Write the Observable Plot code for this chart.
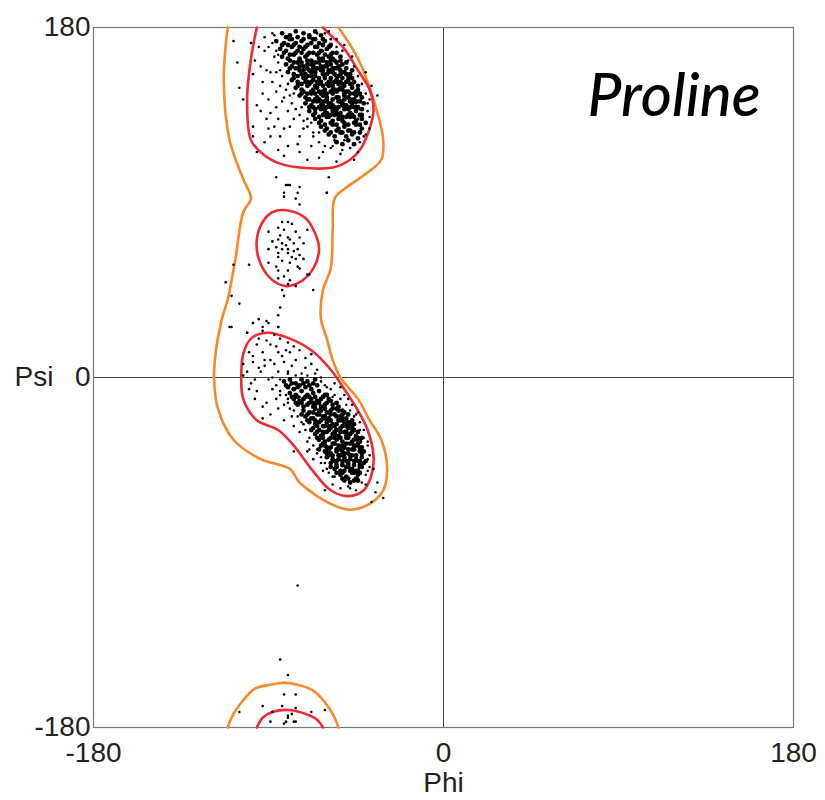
<!DOCTYPE html>
<html><head><meta charset="utf-8">
<script src="https://cdn.jsdelivr.net/npm/d3@7"></script>
<script src="https://cdn.jsdelivr.net/npm/@observablehq/plot@0.6"></script>
<style>body{margin:0;background:#fff}</style>
</head><body><div id="chart"></div>
<script>
const title = "Proline";
const xTicks = [-180, 0, 180];
const yTicks = [-180, 0, 180];

// Contours [phi, psi]
const orangeMain = [[-111,180],[-113,153],[-110,122],[-103,102],[-99,92],[-103,85],[-107,61],[-111,40],[-114,30],[-117,14],[-118,0],[-116,-16],[-108,-32],[-94,-42],[-79,-47],[-74,-54],[-58,-65],[-48,-68],[-38,-65],[-31,-58],[-29,-47],[-32,-32],[-38,-22],[-44,-11],[-53,0],[-57,9],[-60,20],[-63,30],[-62,45],[-58,56],[-57,76],[-56,92],[-51,97],[-41,104],[-32,112],[-31,122],[-36,143],[-44,164],[-54,180]];
const orangeBottom = [[-111,-180],[-108,-173],[-103,-166],[-97,-160],[-89,-158],[-82,-157],[-75,-158],[-67,-161],[-61,-167],[-57,-173],[-54,-180]];
const redTop = [[-96,180],[-99,164],[-101,143],[-99,122],[-93,115],[-84,110],[-74,108],[-57,108],[-48,112],[-43,117],[-38,128],[-36,138],[-38,148],[-44,158],[-51,169],[-58,176],[-62,180]];
const redBottom = [[-96,-180],[-93,-175],[-88,-172],[-79,-171],[-71,-173],[-65,-176],[-62,-180]];
const redMiddle = [[-81,86],[-71,82],[-66,74],[-64,66],[-67,56],[-74,49],[-81,47],[-89,51],[-95,61],[-96,71],[-93,80],[-88,85]];
const redAlpha = [[-91,23],[-79,20],[-68,14],[-58,4],[-51,-6],[-44,-17],[-39,-27],[-36,-40],[-37,-50],[-41,-58],[-49,-61],[-58,-58],[-68,-47],[-77,-35],[-85,-27],[-96,-22],[-103,-11],[-104,0],[-103,12],[-99,20]];

// Scatter points [phi, psi]
const betaCore = [[-83,177],[-79,176],[-76,178],[-72,177],[-69,175],[-66,178],[-63,176],
[-86,173],[-82,172],[-79,174],[-76,172],[-73,173],[-70,171],[-67,174],[-64,172],[-61,173],[-58,171],
[-84,169],[-81,168],[-78,170],[-75,168],[-72,169],[-69,167],[-66,170],[-63,168],[-60,169],[-57,167],
[-83,165],[-80,164],[-77,166],[-74,164],[-71,165],[-68,163],[-65,166],[-62,164],[-59,165],[-56,163],[-53,165],
[-81,161],[-78,160],[-75,162],[-72,160],[-70,161],[-67,159],[-64,162],[-61,160],[-58,161],[-55,159],[-52,161],
[-80,157],[-77,156],[-74,158],[-71,156],[-68,157],[-66,155],[-63,158],[-60,156],[-57,157],[-54,155],[-51,157],[-48,156],
[-78,153],[-75,152],[-72,154],[-70,152],[-67,153],[-64,151],[-61,154],[-58,152],[-55,153],[-52,151],[-49,153],[-46,152],
[-76,149],[-73,148],[-70,150],[-67,148],[-65,149],[-62,147],[-59,150],[-56,148],[-53,149],[-50,147],[-47,149],[-44,148],
[-74,145],[-71,144],[-68,146],[-65,144],[-62,145],[-60,143],[-57,146],[-54,144],[-51,145],[-48,143],[-45,145],[-42,144],
[-71,141],[-68,140],[-65,142],[-62,140],[-59,141],[-56,139],[-53,142],[-50,140],[-47,141],[-44,139],[-41,141],
[-69,137],[-66,136],[-63,138],[-60,136],[-57,137],[-54,135],[-51,138],[-48,136],[-45,137],[-42,135],
[-66,133],[-63,132],[-60,134],[-57,132],[-54,133],[-51,131],[-48,134],[-45,132],[-42,133],[-40,131],
[-63,129],[-60,128],[-57,130],[-54,128],[-51,129],[-48,127],[-45,130],[-42,128],
[-59,125],[-56,124],[-53,126],[-50,124],[-47,125],[-44,123],
[-55,121],[-52,120],[-49,122],[-46,120],
[-74,163],[-70,163],[-66,162],[-62,163],[-58,163],[-55,162],
[-76,159],[-72,158],[-69,158],[-65,159],[-62,158],[-59,158],[-56,159],[-53,158],
[-75,155],[-71,154],[-68,155],[-64,154],[-61,155],[-58,154],[-55,155],[-52,154],[-49,155],
[-73,151],[-69,151],[-66,150],[-63,152],[-60,151],[-57,150],[-54,151],[-51,150],[-48,151],
[-72,147],[-68,147],[-64,147],[-61,148],[-58,147],[-55,147],[-52,148],[-49,147],[-46,146],
[-69,143],[-66,143],[-63,142],[-60,144],[-57,143],[-54,142],[-51,143],[-48,142],[-45,142],
[-67,139],[-64,139],[-61,138],[-58,139],[-55,138],[-52,140],[-49,138],[-46,139],
[-62,135],[-59,134],[-56,135],[-53,136],[-50,134],[-47,135],
[-81,175],[-78,174],[-75,175],[-72,174],[-69,176],[-66,174],[-62,174],
[-83,171],[-80,171],[-77,171],[-74,170],[-71,170],[-68,172],[-65,170],[-62,171],[-59,170],
[-82,167],[-79,166],[-76,167],[-73,167],[-70,166],[-67,167],[-64,167],[-61,166],[-58,166],[-55,167],
[-79,163],[-77,162],[-73,162],[-68,161],[-64,164],[-60,162],[-57,164],[-53,163],[-50,162],
[-79,159],[-74,160],[-70,159],[-67,160],[-63,160],[-60,160],[-57,159],[-54,160],[-50,159],[-47,158],
[-77,154],[-73,156],[-70,155],[-66,157],[-62,156],[-59,157],[-56,156],[-53,156],[-50,156],[-47,154],
[-75,150],[-71,152],[-68,152],[-65,152],[-62,150],[-59,152],[-56,152],[-53,152],[-50,152],[-47,151],[-44,150],
[-73,146],[-70,146],[-66,146],[-63,146],[-60,146],[-57,148],[-54,148],[-51,146],[-48,146],[-45,147],[-43,146],
[-70,143],[-67,142],[-64,143],[-61,142],[-58,141],[-55,144],[-52,141],[-49,144],[-46,143],[-43,142],
[-69,139],[-66,138],[-63,140],[-60,139],[-57,140],[-54,139],[-51,140],[-48,139],[-45,139],[-42,138],
[-67,135],[-64,134],[-61,136],[-58,135],[-55,136],[-52,134],[-49,135],[-46,134],[-43,135],
[-64,131],[-61,130],[-58,131],[-55,130],[-52,132],[-49,130],[-46,131],[-43,130],
[-61,127],[-58,126],[-55,127],[-52,126],[-49,127],[-46,126],[-43,126]];
const betaHalo = [[-108,173],[-106,162],[-105,149],[-103,143],[-98,129],[-98,124],[-96,116],[-86,103],[-80,99],[-82,95],[-60,95],[-59,103],[-34,145],[-44,116],[-99,172],[-98,156],[-94,160],[-92,168],[-89,136],[-87,129],[-90,143],[-85,117],[-82,114],[-74,116],[-68,119],[-57,119],[-51,122],[-46,126],[-44,133],[-43,138],[-45,141],[-80,119],[-84,124],[-85,133],[-79,129],[-74,124],[-67,126],[-46,112],[-55,111],[-65,177],[-58,170],[-53,160],[-49,153],[-43,145],[-39,141],[-58,164],[-62,168],[-92,175],[-88,177],[-90,170],[-87,165],[-91,158],[-88,152],[-93,146],[-86,147],[-94,137],[-90,128],[-92,121],
[-95,170],[-97,163],[-93,152],[-96,140],[-91,133],[-89,124],[-86,139],[-83,142],[-80,137],[-77,133],[-72,128],[-70,133],[-84,158],[-86,168],[-89,157],[-82,128],[-75,120],[-62,116],[-53,115],[-40,125],[-38,134],[-37,150],[-40,157],[-47,165],[-51,171],[-55,174],[-59,178],[-70,112],[-64,113],
[-88,172],[-85,162],[-86,157],[-83,155],[-84,150],[-81,148],[-82,144],[-79,145],[-78,141],[-76,138],[-74,135],[-72,132],[-70,129],[-67,124],[-64,121],[-61,119],[-58,118],[-52,117],[-48,118],[-43,121],[-41,124],[-38,128],[-39,137],[-40,146],[-42,151],[-44,155],[-46,160],[-49,163],[-52,168],[-55,170],[-58,174],[-61,177],[-87,176],[-85,166],[-80,151],[-77,146],[-73,139],[-68,131],[-64,126],[-56,122],[-38,143],
[-81,99],[-79,99],[-74,98],[-82,93],[-76,92],[-74,89],[-60,95],[-75,95]];
const middlePts = [[-83,80],[-80,80],[-78,79],[-85,77],[-82,76],[-76,75],[-70,76],[-90,75],[-84,73],[-80,72],[-74,72],[-88,70],[-85,71],[-83,69],[-81,68],[-79,71],[-77,69],[-72,69],[-86,67],[-83,66],[-80,66],[-90,66],[-75,66],[-77,65],[-85,64],[-80,64],[-74,63],[-78,62],[-76,61],[-85,62],[-72,61],[-83,60],[-79,59],[-75,57],[-86,57],[-85,55],[-80,55],[-74,56],[-70,53],[-82,52],[-85,51],[-79,50],[-90,59],[-69,53],[-80,48],[-83,45],[-76,47],[-67,45],[-82,42],[-84,36],[-85,32],[-85,26],
[-108,58],[-112,49],[-109,42],[-105,38],[-100,58],[-98,28],[-95,30],[-93,26],[-101,23],[-91,29],[-93,24],[-110,26]];
const alphaCore = [[-82,-2],[-79,-1],[-76,-3],[-73,-1],[-70,-2],[-67,-3],
[-80,-5],[-77,-6],[-74,-4],[-71,-5],[-68,-6],[-65,-4],
[-79,-8],[-76,-9],[-73,-7],[-70,-9],[-67,-8],[-64,-7],[-61,-9],
[-77,-11],[-74,-12],[-71,-10],[-68,-11],[-65,-12],[-62,-10],[-59,-11],
[-75,-14],[-72,-15],[-69,-13],[-66,-14],[-63,-15],[-60,-13],[-57,-14],[-54,-15],
[-72,-17],[-69,-18],[-66,-16],[-63,-17],[-60,-18],[-57,-16],[-54,-17],[-51,-18],
[-71,-20],[-68,-21],[-65,-19],[-62,-20],[-59,-21],[-56,-19],[-53,-20],[-50,-21],
[-69,-23],[-66,-24],[-63,-22],[-60,-23],[-57,-24],[-54,-22],[-51,-23],[-48,-24],
[-67,-26],[-64,-27],[-61,-25],[-58,-26],[-55,-27],[-52,-25],[-49,-26],[-46,-27],
[-66,-29],[-63,-30],[-60,-28],[-57,-29],[-54,-30],[-51,-28],[-48,-29],[-45,-30],
[-64,-32],[-61,-33],[-58,-31],[-55,-32],[-52,-33],[-49,-31],[-46,-32],[-43,-33],
[-63,-35],[-60,-36],[-57,-34],[-54,-35],[-51,-36],[-48,-34],[-45,-35],[-42,-36],
[-61,-38],[-58,-39],[-55,-37],[-52,-38],[-49,-39],[-46,-37],[-43,-38],
[-60,-41],[-57,-42],[-54,-40],[-51,-41],[-48,-42],[-45,-40],[-42,-41],
[-58,-44],[-55,-45],[-52,-43],[-49,-44],[-46,-45],[-43,-43],[-41,-44],
[-56,-47],[-53,-48],[-50,-46],[-47,-47],[-44,-48],[-42,-46],
[-53,-50],[-50,-51],[-47,-49],[-44,-50],
[-51,-53],[-48,-54],[-45,-52],
[-67,-15],[-64,-19],[-61,-16],[-58,-19],[-55,-16],[-52,-19],
[-66,-22],[-62,-25],[-59,-22],[-56,-25],[-53,-22],[-50,-25],[-47,-22],
[-65,-28],[-62,-31],[-59,-27],[-56,-31],[-53,-28],[-50,-31],[-47,-28],[-44,-31],
[-62,-34],[-59,-37],[-56,-34],[-53,-37],[-50,-34],[-47,-37],[-44,-34],
[-59,-40],[-56,-43],[-53,-40],[-50,-43],[-47,-40],[-44,-43],
[-55,-46],[-52,-49],[-49,-46],[-46,-49],[-43,-46],
[-81,-4],[-78,-3],[-75,-5],[-72,-3],[-69,-4],[-66,-1],
[-78,-10],[-75,-10],[-72,-11],[-69,-10],[-66,-10],[-63,-11],[-60,-9],
[-76,-13],[-73,-13],[-70,-14],[-67,-13],[-64,-13],[-61,-14],[-58,-12],[-55,-13],
[-73,-19],[-70,-19],[-67,-18],[-64,-17],[-61,-20],[-58,-17],[-55,-20],[-52,-17],[-49,-19],
[-70,-22],[-67,-21],[-64,-23],[-61,-21],[-58,-22],[-55,-24],[-52,-21],[-49,-23],[-46,-24],
[-68,-27],[-65,-25],[-62,-28],[-59,-25],[-56,-28],[-53,-26],[-50,-28],[-47,-26],[-44,-28],
[-65,-31],[-62,-29],[-59,-32],[-56,-29],[-53,-31],[-50,-30],[-47,-33],[-44,-32],[-42,-31],
[-64,-37],[-61,-35],[-58,-36],[-55,-38],[-52,-35],[-49,-37],[-46,-35],[-43,-36],[-41,-38],
[-60,-39],[-57,-40],[-54,-42],[-51,-39],[-48,-40],[-45,-42],[-42,-39],
[-58,-46],[-55,-43],[-52,-45],[-49,-45],[-46,-43],[-43,-45],[-40,-43],
[-55,-49],[-51,-48],[-48,-48],[-45,-48],[-43,-49],
[-52,-52],[-49,-52],[-46,-53],[-44,-53]];
const alphaHalo = [[-109,26],[-98,28],[-101,23],[-90,28],[-85,26],
[-89,17],[-93,13],[-85,13],[-80,18],[-98,8],[-89,9],[-82,8],[-76,9],[-71,5],[-101,3],[-94,3],[-85,3],[-90,-1],[-82,-2],[-99,-3],[-96,-7],[-88,-6],[-84,-9],[-97,-11],[-91,-13],[-85,-16],[-93,-21],[-82,-22],[-98,11],[-92,6],[-80,3],[-103,7],[-96,17],[-100,13],[-87,22],[-84,20],[-79,13],[-74,14],[-68,12],[-65,4],[-60,-5],[-57,-10],[-75,-5],[-80,-11],[-77,-25],[-74,-28],[-70,-33],[-65,-39],[-53,-5],[-49,-11],[-44,-18],[-43,-27],[-39,-35],[-39,-42],[-40,-50],[-44,-52],[-51,-52],[-57,-51],[-61,-58],[-53,-57],[-49,-56],[-34,-54],[-35,-59],[-31,-62],[-37,-64],[-77,-38],[-67,-42],
[-95,20],[-91,19],[-86,16],[-83,11],[-78,6],[-73,2],[-95,5],[-88,0],[-79,-4],[-93,-15],[-89,-19],[-86,-11],[-100,-6],[-103,1],[-97,-1],[-92,9],[-87,7],[-81,14],[-77,16],[-71,10],[-68,7],[-63,0],[-74,-10],[-79,-16],[-82,-14],[-72,-24],[-69,-37],[-63,-44],[-60,-47],[-57,-55],[-45,-58],[-40,-55],[-38,-46],[-41,-31],[-47,-14],[-51,-9],[-56,-3],
[-86,-4],[-84,-7],[-81,-9],[-80,-13],[-77,-17],[-75,-20],[-73,-23],[-71,-27],[-69,-31],[-67,-35],[-65,-37],[-63,-41],[-61,-44],[-59,-49],[-56,-51],[-48,-57],[-42,-54],[-39,-48],[-38,-40],[-39,-33],[-41,-27],[-43,-23],[-45,-19],[-48,-17],[-50,-14],[-53,-11],[-56,-9],[-58,-6],[-61,-4],[-63,-2],[-66,2],[-70,1],[-76,1],[-80,2],[-84,-1],[-78,-20],[-70,-38],[-62,-48],[-36,-47],[-46,-20]];
const bottomPts = [[-75,-107],[-84,-145],[-80,-153],[-82,-163],[-76,-163],[-93,-169],[-105,-172],[-83,-169],[-76,-170],[-68,-172],[-61,-171],[-88,-172],[-80,-174],[-78,-173],[-89,-177],[-81,-177],[-77,-177],[-82,-178],[-80,-175],[-76,-177]];

const px = d => d[0], py = d => d[1];
const ORANGE = "#f7892a", RED = "#ee2b35";

const chart = Plot.plot({
  width: 825, height: 800,
  marginLeft: 93, marginRight: 32, marginTop: 27, marginBottom: 73,
  x: {domain: [-180, 180]},
  y: {domain: [-180, 180]},
  style: {fontFamily: "'Liberation Sans', Arial, sans-serif", color: "#222", background: "#fff"},
  marks: [
    Plot.ruleX([0], {stroke: "#444", strokeWidth: 1}),
    Plot.ruleY([0], {stroke: "#444", strokeWidth: 1}),
    Plot.frame({stroke: "#777", strokeWidth: 1.2}),
    Plot.line(orangeMain, {x: px, y: py, stroke: ORANGE, strokeWidth: 2.6, curve: "catmull-rom"}),
    Plot.line(orangeBottom, {x: px, y: py, stroke: ORANGE, strokeWidth: 2.6, curve: "catmull-rom"}),
    Plot.line(redTop, {x: px, y: py, stroke: RED, strokeWidth: 2.6, curve: "catmull-rom"}),
    Plot.line(redBottom, {x: px, y: py, stroke: RED, strokeWidth: 2.6, curve: "catmull-rom"}),
    Plot.line(redMiddle, {x: px, y: py, stroke: RED, strokeWidth: 2.6, curve: "catmull-rom-closed"}),
    Plot.line(redAlpha, {x: px, y: py, stroke: RED, strokeWidth: 2.6, curve: "catmull-rom-closed"}),
    Plot.dot(betaCore, {x: px, y: py, r: 2.4, fill: "black"}),
    Plot.dot(alphaCore, {x: px, y: py, r: 2.4, fill: "black"}),
    Plot.dot(betaHalo, {x: px, y: py, r: 1.3, fill: "black"}),
    Plot.dot(middlePts, {x: px, y: py, r: 1.3, fill: "black"}),
    Plot.dot(alphaHalo, {x: px, y: py, r: 1.3, fill: "black"}),
    Plot.dot(bottomPts, {x: px, y: py, r: 1.3, fill: "black"}),
    Plot.axisX({ticks: xTicks, tickSize: 0, tickPadding: 15, fontSize: 28, tickFormat: d => String(d), label: null}),
    Plot.axisY({ticks: yTicks, tickSize: 0, tickPadding: 3, fontSize: 28, tickFormat: d => String(d), label: null}),
    Plot.text(["Phi"], {text: d => d, frameAnchor: "bottom", lineAnchor: "top", dy: 45, fontSize: 28, fill: "#222"}),
    Plot.text(["Psi"], {text: d => d, frameAnchor: "left", textAnchor: "end", dx: -40, fontSize: 28, fill: "#222"}),
    Plot.text([title], {text: d => d, frameAnchor: "top-right", textAnchor: "end", lineAnchor: "bottom", dx: -33, dy: 88, fontSize: 60, fontStyle: "italic", fontWeight: 500, fontFamily: "Lato, 'Open Sans', sans-serif", fill: "black"})
  ]
});
document.getElementById("chart").append(chart);
</script>
</body></html>
